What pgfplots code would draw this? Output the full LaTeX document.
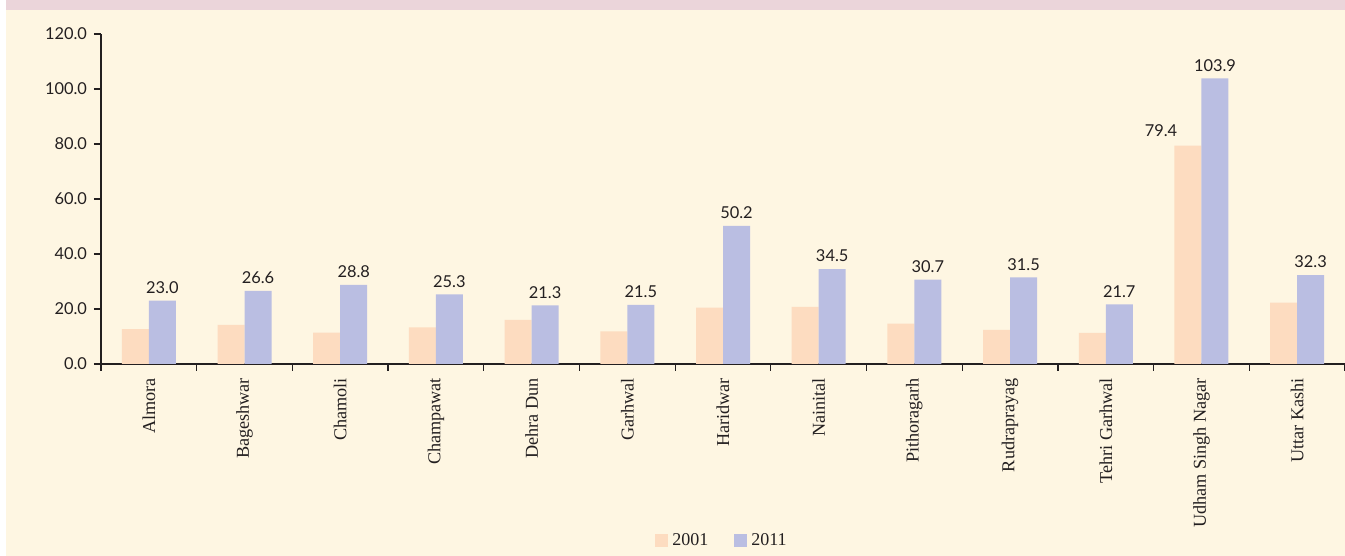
\documentclass[border=0pt]{standalone}
\usepackage{pgfplots}
\pgfplotsset{compat=1.18}
\usepackage{fontspec}
\setmainfont{Liberation Serif}
\newfontfamily\numfont{Lato}
\definecolor{cream}{HTML}{FEF6E2}
\definecolor{pinkband}{HTML}{EBD5DA}
\definecolor{peach}{HTML}{FDDCC0}
\definecolor{lav}{HTML}{BABEE2}
\definecolor{txt}{HTML}{231F20}
\begin{document}
\begin{tikzpicture}
\useasboundingbox (0,0) rectangle (672.5pt,278pt);
\fill[white] (0,0) rectangle (672.5pt,278pt);
\fill[cream] (3pt,0) rectangle (672.5pt,273pt);
\fill[pinkband] (3pt,273pt) rectangle (672.5pt,278pt);
\begin{axis}[
  at={(50.5pt,96pt)}, anchor=south west,
  scale only axis, width=622pt, height=165pt,
  ybar, bar width=13.5pt,
  xmin=-0.5, xmax=12.5, ymin=0, ymax=120,
  axis x line=bottom, axis y line=left,
  axis line style={-, draw=txt, line width=0.6pt},
  xtick={0,...,12},
  xticklabels={Almora,Bageshwar,Chamoli,Champawat,Dehra Dun,Garhwal,Haridwar,Nainital,Pithoragarh,Rudraprayag,Tehri Garhwal,Udham Singh Nagar,Uttar Kashi},
  minor xtick={-0.5,0.5,...,12.5},
  x tick style={draw=none},
  minor x tick style={draw=txt, line width=0.6pt},
  minor tick length=3.5pt,
  ytick={0,20,...,120},
  y tick style={draw=txt, line width=0.6pt},
  major tick length=3.5pt,
  tick align=outside,
  /pgf/number format/assume math mode=true,
  yticklabel style={font=\numfont\fontsize{8.2}{10}\selectfont, text=txt, /pgf/number format/fixed, /pgf/number format/fixed zerofill, /pgf/number format/precision=1},
  xticklabel style={font=\fontsize{9.1}{11}\selectfont, text=txt, rotate=90, anchor=east},
  nodes near coords style={font=\numfont\fontsize{8.2}{10}\selectfont, text=txt, /pgf/number format/fixed, /pgf/number format/fixed zerofill, /pgf/number format/precision=1},
  legend style={at={(0.5,-0.536)}, anchor=center, draw=none, fill=none,
    font=\fontsize{9}{11}\selectfont, text=txt, legend columns=2,
    /tikz/every even column/.append style={column sep=11pt}},
  legend image code/.code={\fill[#1,draw=none] (0pt,-3.25pt) rectangle (6.5pt,3.25pt);},
]
\addplot[fill=peach, draw=none, bar shift=-6.75pt] coordinates {
(0,12.7) (1,14.2) (2,11.4) (3,13.3) (4,16.0) (5,11.9) (6,20.5) (7,20.8) (8,14.7) (9,12.4) (10,11.3) (11,79.4) (12,22.3)};
\addlegendentry{2001}
\addplot[fill=lav, draw=none, bar shift=6.75pt, nodes near coords] coordinates {
(0,23.0) (1,26.6) (2,28.8) (3,25.3) (4,21.3) (5,21.5) (6,50.2) (7,34.5) (8,30.7) (9,31.5) (10,21.7) (11,103.9) (12,32.3)};
\addlegendentry{2011}
\addplot[fill=none, draw=none, bar shift=-6.75pt, forget plot, nodes near coords,
  every node near coord/.append style={xshift=-13.5pt, yshift=1pt}] coordinates {(11,79.4)};
\end{axis}
\end{tikzpicture}
\end{document}
